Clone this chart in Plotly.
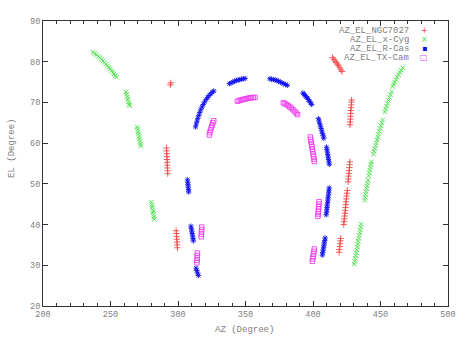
import plotly.graph_objects as go

# ---------------- data (AZ, EL in degrees) ----------------
ngc7027_az = [294.3, 294.7,
              292.4, 292.3, 292.2, 292.1, 292.0, 291.9, 291.8, 291.7, 291.6, 291.5,
              299.6, 299.4, 299.3, 299.1, 299.0, 298.8, 298.6,
              414.5, 415.4, 416.3, 417.2, 418.1, 419.0, 419.9, 420.8, 421.5,
              427.4, 427.5, 427.7, 427.8, 427.9, 428.0, 428.2, 428.3, 428.5, 428.6,
              426.0, 426.2, 426.4, 426.6, 426.8, 427.0, 427.1, 427.3,
              422.8, 423.0, 423.2, 423.4, 423.7, 423.9, 424.1, 424.3, 424.5, 424.7, 424.9, 425.2, 425.4,
              419.3, 419.5, 419.8, 420.0, 420.3, 420.5]
ngc7027_el = [74.3, 74.8,
              52.5, 53.2, 53.9, 54.6, 55.3, 56.0, 56.7, 57.4, 58.1, 58.8,
              34.3, 35.0, 35.7, 36.4, 37.1, 37.8, 38.5,
              81.0, 80.6, 80.2, 79.8, 79.4, 79.0, 78.5, 78.0, 77.6,
              64.5, 65.2, 65.9, 66.6, 67.3, 68.0, 68.7, 69.4, 70.1, 70.6,
              50.5, 51.2, 51.9, 52.6, 53.3, 54.0, 54.7, 55.4,
              40.0, 40.7, 41.4, 42.1, 42.8, 43.5, 44.2, 44.9, 45.6, 46.3, 47.0, 47.7, 48.4,
              33.2, 33.9, 34.6, 35.3, 36.0, 36.6]

xcyg_az = [237.0, 238.3, 239.6, 240.9, 242.1, 243.3, 244.5, 245.6, 246.7, 247.8, 248.8, 249.8, 250.8, 251.8, 252.7, 253.6, 254.4,
           261.5, 261.9, 262.4, 262.8, 263.3, 263.8, 264.2,
           269.8, 270.1, 270.4, 270.8, 271.1, 271.4, 271.8, 272.1, 272.4,
           280.3, 280.6, 280.9, 281.2, 281.5, 281.8, 282.1, 282.4,
           430.6, 431.0, 431.3, 431.7, 432.0, 432.4, 432.8, 433.1, 433.5, 433.8, 434.2, 434.6, 434.9, 435.3, 435.7,
           438.3, 438.6, 439.0, 439.3, 439.7, 440.0, 440.4, 440.8,
           441.3, 441.7, 442.1, 442.5, 442.9, 443.3,
           444.8, 445.3, 445.8, 446.3, 446.9, 447.4, 448.0, 448.5, 449.1, 449.7, 450.3, 450.9, 451.5,
           453.2, 453.8, 454.5, 455.2, 455.9, 456.6, 457.4, 458.2,
           459.0, 459.8, 460.6, 461.5, 462.4, 463.4, 464.4, 465.4, 466.5]
xcyg_el = [82.3, 82.0, 81.7, 81.3, 81.0, 80.6, 80.2, 79.8, 79.4, 79.0, 78.6, 78.2, 77.8, 77.4, 77.0, 76.6, 76.2,
           72.6, 72.0, 71.4, 70.8, 70.2, 69.6, 69.2,
           64.0, 63.4, 62.8, 62.2, 61.6, 61.0, 60.4, 59.8, 59.3,
           45.5, 44.9, 44.3, 43.7, 43.1, 42.5, 41.9, 41.3,
           30.3, 31.0, 31.7, 32.4, 33.1, 33.8, 34.5, 35.2, 35.9, 36.6, 37.3, 38.0, 38.7, 39.4, 40.1,
           46.0, 46.7, 47.4, 48.1, 48.8, 49.5, 50.2, 50.9,
           52.0, 52.7, 53.4, 54.1, 54.8, 55.4,
           57.3, 58.0, 58.7, 59.4, 60.1, 60.8, 61.5, 62.2, 62.9, 63.6, 64.3, 65.0, 65.7,
           67.7, 68.4, 69.1, 69.8, 70.5, 71.2, 71.9, 72.6,
           73.9, 74.5, 75.0, 75.6, 76.2, 76.8, 77.4, 77.9, 78.5]

rcas_az = [313.4, 313.9, 314.5, 315.1,
           309.6, 309.9, 310.2, 310.5, 310.8, 311.1, 311.4,
           307.0, 307.2, 307.4, 307.6, 307.8, 307.9,
           313.0, 313.5, 314.1, 314.7, 315.4, 316.1, 316.9, 317.8, 318.7, 319.7, 320.8, 321.9, 323.0, 324.2, 325.4, 326.5,
           338.0, 339.3, 340.6, 341.9, 343.2, 344.5, 345.8, 347.1, 348.4, 349.7,
           368.0, 369.3, 370.6, 371.9, 373.2, 374.5, 375.8, 377.1, 378.4, 379.7, 381.0,
           392.6, 393.4, 394.2, 395.0, 395.8, 396.6, 397.4, 398.2, 399.0,
           404.0, 404.5, 405.0, 405.5, 406.0, 406.5, 407.0, 407.5, 408.0,
           410.0, 410.3, 410.6, 410.9, 411.2, 411.5, 411.8, 412.1,
           412.0, 411.8, 411.6, 411.4, 411.2, 411.0, 410.8, 410.6, 410.4, 410.2, 410.0, 409.8,
           409.0, 408.7, 408.4, 408.1, 407.8, 407.5, 407.2, 406.9]
rcas_el = [29.3, 28.7, 28.1, 27.5,
           39.6, 39.0, 38.4, 37.8, 37.2, 36.6, 36.0,
           51.0, 50.4, 49.8, 49.2, 48.6, 48.0,
           64.0, 64.7, 65.4, 66.1, 66.8, 67.5, 68.2, 68.9, 69.5, 70.1, 70.7, 71.2, 71.7, 72.1, 72.5, 72.8,
           74.6, 74.8, 75.0, 75.2, 75.4, 75.5, 75.6, 75.7, 75.8, 75.9,
           75.8, 75.7, 75.6, 75.5, 75.4, 75.2, 75.0, 74.8, 74.6, 74.4, 74.2,
           72.3, 72.0, 71.7, 71.4, 71.1, 70.7, 70.3, 69.9, 69.5,
           66.0, 65.4, 64.8, 64.2, 63.6, 63.0, 62.4, 61.8, 61.2,
           59.0, 58.4, 57.8, 57.2, 56.6, 56.0, 55.4, 54.8,
           49.0, 48.4, 47.8, 47.2, 46.6, 46.0, 45.4, 44.8, 44.2, 43.6, 43.0, 42.4,
           36.7, 36.1, 35.5, 34.9, 34.3, 33.7, 33.1, 32.5]

txcam_az = [314.0, 314.1, 314.2, 314.3, 314.4,
            317.2, 317.3, 317.4, 317.5, 317.6,
            323.2, 323.6, 324.1, 324.6, 325.2, 325.8, 326.5,
            344.0, 345.3, 346.6, 347.9, 349.2, 350.5, 351.8, 353.1, 354.4, 355.7, 357.0,
            378.0, 379.2, 380.4, 381.6, 382.8, 384.0, 385.2, 386.4, 387.6, 388.6,
            398.0, 398.3, 398.6, 398.9, 399.2, 399.5, 399.8, 400.1, 400.4, 400.7, 401.0,
            404.5, 404.4, 404.2, 404.1, 403.9, 403.8, 403.6,
            401.0, 400.7, 400.4, 400.1, 399.8, 399.5]
txcam_el = [30.6, 31.2, 31.8, 32.4, 33.0,
            37.0, 37.6, 38.2, 38.8, 39.4,
            62.0, 62.6, 63.2, 63.8, 64.4, 65.0, 65.5,
            70.3, 70.45, 70.6, 70.7, 70.8, 70.9, 71.0, 71.1, 71.15, 71.2, 71.25,
            69.9, 69.7, 69.5, 69.2, 68.9, 68.6, 68.2, 67.8, 67.4, 67.0,
            61.5, 60.9, 60.3, 59.7, 59.1, 58.5, 57.9, 57.3, 56.7, 56.1, 55.5,
            45.6, 45.0, 44.4, 43.8, 43.2, 42.6, 42.0,
            34.0, 33.4, 32.8, 32.2, 31.6, 31.0]

series_names = ["AZ_EL_NGC7027", "AZ_EL_x-Cyg", "AZ_EL_R-Cas", "AZ_EL_TX-Cam"]
series_colors = ["#f04848", "#44e044", "#1010f0", "#f040f0"]
series_symbols = ["cross-thin-open", "x-thin-open", "asterisk-open", "square-open"]
legend_glyphs = ["+", "\u00d7", "\u25aa", "\u25a1"]
x_ticks = [200, 250, 300, 350, 400, 450, 500]
y_ticks = [20, 30, 40, 50, 60, 70, 80, 90]

FONT = "Liberation Mono"
GREY = "#808080"

fig = go.Figure()
data = [(ngc7027_az, ngc7027_el), (xcyg_az, xcyg_el), (rcas_az, rcas_el), (txcam_az, txcam_el)]
for (az, el), name, col, sym in zip(data, series_names, series_colors, series_symbols):
    fig.add_trace(go.Scatter(
        x=az, y=el, mode="markers", name=name,
        marker=dict(symbol=sym, size=4.5, color=col, line=dict(color=col, width=0.9)),
        showlegend=False,
    ))

axis_common = dict(
    showline=True, linecolor="#333333", linewidth=1, mirror="ticks",
    ticks="inside", ticklen=5, tickcolor="#333333", tickwidth=1,
    showgrid=False, zeroline=False,
    tickfont=dict(family=FONT, size=8.5, color=GREY),
)
fig.update_xaxes(range=[200, 500], tickvals=x_ticks, ticktext=[str(v) for v in x_ticks],
                 minor=dict(ticks="inside", ticklen=3, dtick=10, tickcolor="#333333", showgrid=False),
                 **axis_common)
fig.update_yaxes(range=[20, 90], tickvals=y_ticks, ticktext=[str(v) for v in y_ticks], **axis_common)

annotations = []
# axis titles
annotations.append(dict(text="AZ (Degree)", xref="paper", yref="paper", x=0.497, y=-0.084,
                        xanchor="center", yanchor="middle", showarrow=False,
                        font=dict(family=FONT, size=9, color=GREY)))
annotations.append(dict(text="EL (Degree)", xref="paper", yref="paper", x=-0.077, y=0.554,
                        xanchor="center", yanchor="middle", showarrow=False, textangle=-90,
                        font=dict(family=FONT, size=9, color=GREY)))
# legend (text right-aligned, sample glyph to the right as in the source)
legend_rows_y = [0.965, 0.934, 0.903, 0.872]
for name, col, glyph, yy in zip(series_names, series_colors, legend_glyphs, legend_rows_y):
    annotations.append(dict(text=name, xref="paper", yref="paper", x=0.905, y=yy,
                            xanchor="right", yanchor="middle", showarrow=False, borderpad=0,
                            height=9, valign="middle",
                            font=dict(family=FONT, size=9, color=GREY)))
    annotations.append(dict(text=glyph, xref="paper", yref="paper", x=0.941, y=yy,
                            xanchor="center", yanchor="middle", showarrow=False, borderpad=0,
                            height=9, valign="middle",
                            font=dict(family="DejaVu Sans", size=8, color=col)))

fig.update_layout(
    width=470, height=339,
    margin=dict(l=43, r=22, t=21, b=33),
    paper_bgcolor="white", plot_bgcolor="white",
    showlegend=False,
    annotations=annotations,
)

fig.write_html("out.html", config={"displayModeBar": False},
               post_script="document.body.style.margin='0px';")
